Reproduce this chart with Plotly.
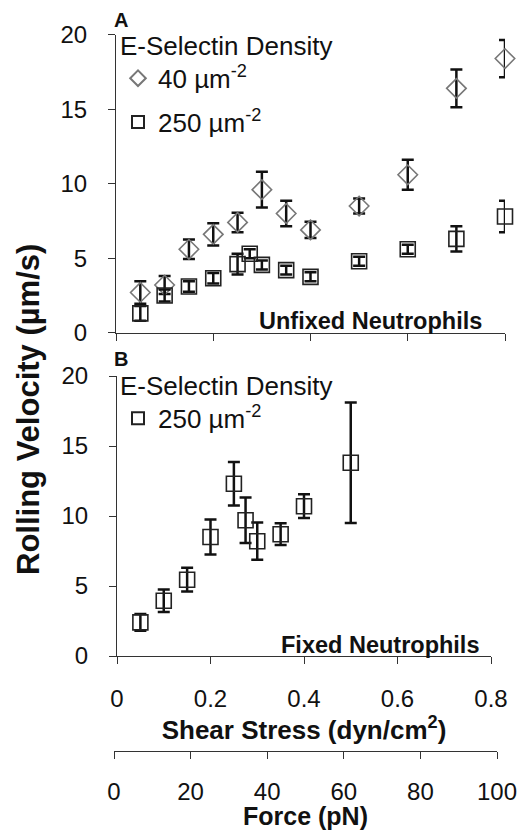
import plotly.graph_objects as go

# ---- data ----
shear_A_40 = [0.05, 0.10, 0.15, 0.20, 0.25, 0.30, 0.35, 0.40, 0.50, 0.60, 0.70, 0.80]
vel_A_40 = [2.7, 3.2, 5.6, 6.6, 7.4, 9.6, 8.0, 6.9, 8.5, 10.6, 16.4, 18.4]
err_A_40 = [0.75, 0.6, 0.65, 0.75, 0.65, 1.2, 0.85, 0.55, 0.5, 1.0, 1.27, 1.25]

shear_A_250 = [0.05, 0.10, 0.15, 0.20, 0.25, 0.275, 0.30, 0.35, 0.40, 0.50, 0.60, 0.70, 0.80]
vel_A_250 = [1.3, 2.5, 3.1, 3.65, 4.6, 5.3, 4.55, 4.2, 3.75, 4.8, 5.6, 6.3, 7.8]
err_A_250 = [0.5, 0.4, 0.35, 0.35, 0.7, 0.3, 0.3, 0.3, 0.3, 0.3, 0.3, 0.85, 1.05]

shear_B = [0.05, 0.10, 0.15, 0.20, 0.25, 0.275, 0.30, 0.35, 0.40, 0.50]
vel_B = [2.4, 3.95, 5.45, 8.5, 12.3, 9.7, 8.2, 8.7, 10.7, 13.8]
err_B = [0.6, 0.8, 0.85, 1.25, 1.55, 1.63, 1.33, 0.78, 0.85, 4.3]

shear_ticks = [0, 0.2, 0.4, 0.6, 0.8]
shear_labels = ["0", "0.2", "0.4", "0.6", "0.8"]
vel_ticks = [0, 5, 10, 15, 20]
force_ticks = [0, 20, 40, 60, 80, 100]

W, H = 525, 830
FONT = "Arial, Liberation Sans, sans-serif"


def px_x(p):
    return p / W


def px_y(p):
    return (H - p) / H


fig = go.Figure()

err_style = dict(type="data", visible=True, color="#111", thickness=2.5, width=6)

fig.add_trace(go.Scatter(
    x=shear_A_40, y=vel_A_40, mode="markers", name="40 µm<sup>-2</sup>",
    error_y=dict(array=err_A_40, **err_style),
    marker=dict(symbol="diamond-open", size=15, color="#777", line=dict(width=1.6, color="#777")),
    xaxis="x", yaxis="y", legend="legend", legendgroup="a40", cliponaxis=False,
))
fig.add_trace(go.Scatter(
    x=shear_A_250, y=vel_A_250, mode="markers", name="250 µm<sup>-2</sup>",
    error_y=dict(array=err_A_250, **err_style),
    marker=dict(symbol="square-open", size=15, color="#222", line=dict(width=1.6, color="#222")),
    xaxis="x", yaxis="y", legend="legend", legendgroup="a250", cliponaxis=False,
))
fig.add_trace(go.Scatter(
    x=shear_B, y=vel_B, mode="markers", name="250 µm<sup>-2</sup>",
    error_y=dict(array=err_B, **err_style),
    marker=dict(symbol="square-open", size=15, color="#222", line=dict(width=1.6, color="#222")),
    xaxis="x2", yaxis="y2", legend="legend2", cliponaxis=False,
))
# empty traces that carry the Force axis and the y tick-label axes
for xa, ya in [("x3", "y3"), ("x", "y4"), ("x2", "y5")]:
    fig.add_trace(go.Scatter(x=[], y=[], xaxis=xa, yaxis=ya, showlegend=False, hoverinfo="skip"))

axis_common = dict(showline=True, linecolor="#333", linewidth=1.3, ticks="outside",
                   ticklen=7, tickwidth=1.3, tickcolor="#333", showgrid=False, zeroline=False,
                   automargin=False,
                   tickfont=dict(family=FONT, size=24, color="#111"))

label_axis = dict(range=[0, 20], tickvals=vel_ticks, anchor="free", side="left",
                  showline=False, showgrid=False, zeroline=False, automargin=False,
                  ticks="outside", ticklen=7, tickcolor="rgba(0,0,0,0)",
                  tickfont=dict(family=FONT, size=24, color="#111"))

fig.update_layout(
    width=W, height=H, margin=dict(l=0, r=0, t=0, b=0, autoexpand=False),
    paper_bgcolor="white", plot_bgcolor="white",
    font=dict(family=FONT, color="#111"),
    xaxis=dict(domain=[px_x(116), px_x(505)], range=[0, 0.8], tickvals=shear_ticks,
               showticklabels=False, anchor="y", **axis_common),
    yaxis=dict(domain=[px_y(332.7), px_y(34.7)], range=[0, 20], tickvals=vel_ticks,
               anchor="x", showticklabels=False, **axis_common),
    yaxis4=dict(overlaying="y", position=px_x(99), **label_axis),
    xaxis2=dict(domain=[px_x(117), px_x(491)], range=[0, 0.8], tickvals=shear_ticks,
                ticktext=shear_labels, anchor="y2", ticklabelstandoff=14,
                title=dict(text="<b>Shear Stress (dyn/cm<sup>2</sup>)</b>",
                           font=dict(family=FONT, size=26, color="#111"), standoff=0),
                **axis_common),
    yaxis2=dict(domain=[px_y(656), px_y(376)], range=[0, 20], tickvals=vel_ticks,
                anchor="x2", showticklabels=False, **axis_common),
    yaxis5=dict(overlaying="y2", position=px_x(100), **label_axis),
    xaxis3=dict(domain=[px_x(114), px_x(497)], range=[0, 100], tickvals=force_ticks,
                anchor="free", position=px_y(751), side="bottom", ticklabelstandoff=12,
                title=dict(text="<b>Force (pN)</b>",
                           font=dict(family=FONT, size=25, color="#111"), standoff=0),
                **axis_common),
    yaxis3=dict(domain=[0, 0.05], visible=False, anchor="x3"),
    legend=dict(x=px_x(118), y=px_y(21), xanchor="left", yanchor="top",
                title=dict(text="E-Selectin Density", font=dict(family=FONT, size=26)),
                font=dict(family=FONT, size=26, color="#111"), bgcolor="rgba(0,0,0,0)",
                tracegroupgap=7, itemsizing="constant", traceorder="grouped"),
    legend2=dict(x=px_x(118), y=px_y(361), xanchor="left", yanchor="top",
                 title=dict(text="E-Selectin Density", font=dict(family=FONT, size=26)),
                 font=dict(family=FONT, size=26, color="#111"), bgcolor="rgba(0,0,0,0)",
                 itemsizing="constant"),
    showlegend=True,
)

ann = [
    dict(text="<b>A</b>", x=px_x(112), y=px_y(20), xanchor="left", yanchor="middle",
         font=dict(size=20)),
    dict(text="<b>B</b>", x=px_x(112), y=px_y(359), xanchor="left", yanchor="middle",
         font=dict(size=20)),
    dict(text="<b>Unfixed Neutrophils</b>", x=px_x(370), y=px_y(321), xanchor="center",
         yanchor="middle", font=dict(size=23.5)),
    dict(text="<b>Fixed Neutrophils</b>", x=px_x(380), y=px_y(645), xanchor="center",
         yanchor="middle", font=dict(size=23.5)),
    dict(text="<b>Rolling Velocity (µm/s)</b>", x=px_x(28), y=px_y(410), xanchor="center",
         yanchor="middle", textangle=-90, font=dict(size=31)),
]
for a in ann:
    a.update(xref="paper", yref="paper", showarrow=False)
    a["font"].update(family=FONT, color="#111")
fig.update_layout(annotations=ann)

fig.write_html("out.html", config={"displayModeBar": False},
               post_script="document.body.style.margin='0';document.body.style.overflow='hidden';")
